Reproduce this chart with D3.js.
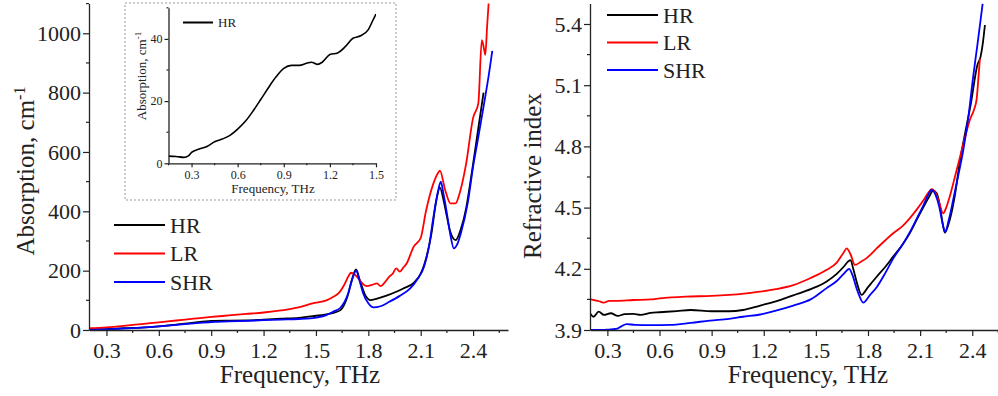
<!DOCTYPE html>
<html>
<head>
<meta charset="utf-8">
<script src="https://cdn.jsdelivr.net/npm/d3@7"></script>
<style>
  body { margin: 0; background: #fff; }
  svg text { font-family: "Liberation Serif", serif !important; fill: #222; }
</style>
</head>
<body>
<div id="chart"></div>
<script>
// absorption, cm-1  [frequency THz, value]
var absHR = [[0.2,2],[0.3,3],[0.4,6],[0.5,8],[0.6,12],[0.7,18],[0.8,25],[0.9,30.5],[1.0,31.5],[1.1,32],[1.2,35],[1.3,38],[1.4,41],[1.5,48],[1.55,52],[1.6,58],[1.64,67],[1.68,112],[1.705,168],[1.73,204],[1.75,170],[1.78,120],[1.81,101],[1.85,106],[1.9,115],[1.96,129],[2.0,140],[2.06,159],[2.1,190],[2.12,220],[2.16,320],[2.19,438],[2.21,480],[2.23,440],[2.25,382],[2.27,330],[2.3,303],[2.33,340],[2.36,410],[2.39,520],[2.42,640],[2.44,720],[2.46,800]];
var absLR = [[0.2,6],[0.3,9],[0.4,14],[0.5,20],[0.6,26],[0.7,32],[0.8,38],[0.9,44],[1.0,49],[1.1,54],[1.2,59],[1.3,66],[1.4,76],[1.48,90],[1.56,100],[1.6,112],[1.63,124],[1.66,150],[1.69,185],[1.70,193],[1.72,188],[1.74,176],[1.77,155],[1.79,148],[1.82,152],[1.85,157],[1.87,148],[1.9,165],[1.92,180],[1.94,190],[1.96,208],[1.98,197],[2.0,210],[2.02,225],[2.06,281],[2.1,310],[2.13,400],[2.17,489],[2.2,530],[2.21,537],[2.24,472],[2.27,427],[2.3,427],[2.32,455],[2.36,560],[2.4,715],[2.43,764],[2.45,977],[2.465,940],[2.47,927],[2.48,1020],[2.49,1110]];
var absSHR = [[0.2,0],[0.3,2],[0.4,5],[0.5,8],[0.6,12],[0.7,17],[0.8,22],[0.9,27],[1.0,29],[1.1,31],[1.2,33],[1.3,35],[1.4,37],[1.5,42],[1.56,50],[1.6,62],[1.64,75],[1.685,124],[1.71,175],[1.73,200],[1.75,165],[1.77,124],[1.8,90],[1.83,76],[1.87,80],[1.92,95],[1.98,115],[2.04,140],[2.08,170],[2.12,215],[2.15,290],[2.17,370],[2.2,470],[2.215,500],[2.23,460],[2.25,393],[2.27,320],[2.29,275],[2.31,290],[2.33,326],[2.37,430],[2.4,550],[2.43,650],[2.46,753],[2.49,860],[2.51,941]];

// inset, HR only, low frequency
var insetHR = [[0.15,2.3],[0.2,2.2],[0.25,1.9],[0.28,2.4],[0.3,3.5],[0.35,4.6],[0.4,5.4],[0.45,6.9],[0.5,7.8],[0.55,9.0],[0.6,11.0],[0.65,13.5],[0.7,16.8],[0.75,20.5],[0.8,24.3],[0.85,27.8],[0.9,30.5],[0.95,31.5],[1.0,31.5],[1.05,32.2],[1.08,32.5],[1.12,31.8],[1.15,32.5],[1.2,35],[1.25,35.5],[1.3,37.5],[1.35,40.2],[1.4,41],[1.45,43],[1.48,46],[1.5,48]];

// refractive index
var riHR = [[0.2,3.982],[0.22,3.965],[0.25,3.99],[0.28,3.974],[0.32,3.982],[0.36,3.969],[0.4,3.978],[0.45,3.979],[0.49,3.974],[0.55,3.984],[0.6,3.987],[0.7,3.993],[0.78,3.998],[0.9,3.992],[1.0,3.992],[1.08,3.998],[1.18,4.02],[1.27,4.04],[1.37,4.07],[1.47,4.1],[1.56,4.137],[1.62,4.175],[1.66,4.21],[1.685,4.235],[1.70,4.243],[1.715,4.2],[1.74,4.12],[1.763,4.072],[1.8,4.11],[1.85,4.161],[1.9,4.21],[1.945,4.26],[2.0,4.32],[2.04,4.374],[2.08,4.44],[2.12,4.504],[2.15,4.55],[2.175,4.583],[2.195,4.57],[2.215,4.504],[2.23,4.42],[2.243,4.377],[2.26,4.41],[2.28,4.472],[2.3,4.56],[2.33,4.734],[2.36,4.87],[2.39,5.0],[2.43,5.2],[2.448,5.24],[2.46,5.3],[2.473,5.395]];
var riLR = [[0.2,4.052],[0.23,4.045],[0.26,4.039],[0.28,4.034],[0.31,4.043],[0.35,4.043],[0.45,4.047],[0.55,4.05],[0.6,4.055],[0.75,4.064],[0.9,4.067],[1.0,4.072],[1.1,4.08],[1.18,4.088],[1.27,4.1],[1.37,4.12],[1.47,4.155],[1.56,4.194],[1.62,4.23],[1.66,4.28],[1.677,4.30],[1.7,4.27],[1.725,4.219],[1.76,4.235],[1.79,4.251],[1.85,4.3],[1.9,4.34],[1.945,4.374],[2.0,4.41],[2.04,4.447],[2.08,4.49],[2.12,4.537],[2.145,4.57],[2.166,4.59],[2.19,4.57],[2.205,4.537],[2.233,4.472],[2.25,4.5],[2.27,4.553],[2.3,4.65],[2.33,4.75],[2.36,4.85],[2.386,4.93],[2.41,4.98],[2.425,5.03],[2.435,5.13],[2.444,5.23]];
var riSHR = [[0.2,3.9],[0.3,3.902],[0.35,3.905],[0.38,3.918],[0.41,3.929],[0.46,3.925],[0.55,3.924],[0.66,3.925],[0.78,3.935],[0.89,3.946],[1.0,3.955],[1.08,3.965],[1.18,3.976],[1.27,3.995],[1.37,4.02],[1.47,4.05],[1.56,4.104],[1.62,4.14],[1.66,4.175],[1.692,4.2],[1.71,4.17],[1.74,4.09],[1.773,4.034],[1.81,4.07],[1.85,4.11],[1.9,4.18],[1.945,4.25],[2.0,4.32],[2.041,4.38],[2.08,4.445],[2.118,4.51],[2.145,4.56],[2.166,4.587],[2.19,4.56],[2.21,4.504],[2.23,4.42],[2.243,4.38],[2.265,4.44],[2.29,4.537],[2.32,4.66],[2.348,4.78],[2.38,4.96],[2.405,5.14],[2.43,5.3],[2.46,5.5]];

var seriesNames = ["HR", "LR", "SHR"];
var seriesColors = ["#000000", "#ff0000", "#0000ff"];
var freqTicks = [0.3, 0.6, 0.9, 1.2, 1.5, 1.8, 2.1, 2.4];
var absTicks = [0, 200, 400, 600, 800, 1000];
var riTicks = [3.9, 4.2, 4.5, 4.8, 5.1, 5.4];
var insetFreqTicks = [0.3, 0.6, 0.9, 1.2, 1.5];
var insetAbsTicks = [0, 20, 40];

var width = 998, height = 396;
var serif = "Liberation Serif";

var svg = d3.select("#chart").append("svg")
    .attr("width", width)
    .attr("height", height)
    .attr("font-family", serif);

function minorTicks(majors, step, domain) {
    var out = [];
    for (var i = 0; i < majors.length; i++) {
        [majors[i] - step, majors[i] + step].forEach(function(v) {
            v = Math.round(v * 1000) / 1000;
            if (v >= domain[0] && v <= domain[1] && out.indexOf(v) < 0 && majors.indexOf(v) < 0) out.push(v);
        });
    }
    return out;
}

function drawPanel(g, x, y, opts) {
    var clipId = "clip" + opts.id;
    g.append("clipPath").attr("id", clipId)
        .append("rect")
        .attr("x", x.range()[0]).attr("y", y.range()[1])
        .attr("width", x.range()[1] - x.range()[0])
        .attr("height", y.range()[0] - y.range()[1]);

    var line = d3.line()
        .x(function(d) { return x(d[0]) })
        .y(function(d) { return y(d[1]) })
        .curve(d3.curveMonotoneX);

    g.append("g").attr("clip-path", "url(#" + clipId + ")")
        .selectAll("path")
        .data(opts.series)
        .enter().append("path")
        .attr("d", function(d) { return line(d.values) })
        .attr("fill", "none")
        .attr("stroke", function(d) { return d.color })
        .attr("stroke-width", opts.lw)
        .attr("stroke-linejoin", "round");

    // axes
    var xAxis = g.append("g")
        .attr("transform", "translate(0," + y.range()[0] + ")")
        .call(d3.axisBottom(x).tickValues(opts.xTicks).tickFormat(d3.format(".1f"))
            .tickSize(opts.tick).tickSizeOuter(0).tickPadding(opts.pad))
        .attr("font-family", serif)
        .attr("font-size", opts.fs);
    xAxis.selectAll(".tick line").attr("stroke", "#222").attr("stroke-width", 1.2);
    xAxis.select(".domain").attr("stroke", "#222").attr("stroke-width", 1.3);
    xAxis.selectAll("text").attr("fill", "#222").attr("font-family", serif);
    xAxis.selectAll(".minor")
        .data(minorTicks(opts.xTicks, opts.xMinor, x.domain()))
        .enter().append("line")
        .attr("x1", function(d) { return x(d) }).attr("x2", function(d) { return x(d) })
        .attr("y1", 0).attr("y2", opts.tick / 2)
        .attr("stroke", "#222").attr("stroke-width", 1.2);

    var yAxis = g.append("g")
        .attr("transform", "translate(" + x.range()[0] + ",0)")
        .call(d3.axisLeft(y).tickValues(opts.yTicks).tickFormat(opts.yFormat)
            .tickSize(opts.tick).tickSizeOuter(0).tickPadding(opts.ypad))
        .attr("font-family", serif)
        .attr("font-size", opts.fs);
    yAxis.selectAll(".tick line").attr("stroke", "#222").attr("stroke-width", 1.2);
    yAxis.select(".domain").attr("stroke", "#222").attr("stroke-width", 1.3);
    yAxis.selectAll("text").attr("fill", "#222").attr("font-family", serif);
    yAxis.selectAll(".minor")
        .data(minorTicks(opts.yTicks, opts.yMinor, y.domain()))
        .enter().append("line")
        .attr("y1", function(d) { return y(d) }).attr("y2", function(d) { return y(d) })
        .attr("x1", 0).attr("x2", -opts.tick / 2)
        .attr("stroke", "#222").attr("stroke-width", 1.2);
}

function legend(g, x0, y0, dy, len, fs, items) {
    var row = g.selectAll(".leg" + x0)
        .data(items)
        .enter().append("g")
        .attr("transform", function(d, i) { return "translate(" + x0 + "," + (y0 + i * dy) + ")" });
    row.append("line").attr("x1", 0).attr("x2", len)
        .attr("stroke", function(d) { return d.color }).attr("stroke-width", 2);
    row.append("text").attr("x", len + 5).attr("dy", "0.35em")
        .attr("font-size", fs)
        .text(function(d) { return d.name });
}

function makeSeries(arrs) {
    return arrs.map(function(a, i) { return { name: seriesNames[i], color: seriesColors[i], values: a } });
}

// ---- left panel: absorption
var xL = d3.scaleLinear().domain([0.2, 2.6]).range([89, 508]);
var yL = d3.scaleLinear().domain([0, 1100]).range([330, 3.6]);
var gL = svg.append("g");
drawPanel(gL, xL, yL, {
    id: "L", series: makeSeries([absHR, absLR, absSHR]), lw: 1.8,
    xTicks: freqTicks, xMinor: 0.15, yTicks: absTicks, yMinor: 100,
    yFormat: d3.format("d"), tick: 6, pad: 6, ypad: 2, fs: 22
});
legend(gL, 114, 225, 28.5, 51, 22, makeSeries([absHR, absLR, absSHR]));
gL.append("text").attr("x", 300).attr("y", 383).attr("text-anchor", "middle")
    .attr("font-size", 25).text("Frequency, THz");
var tL = gL.append("text")
    .attr("transform", "translate(34,171) rotate(-90)")
    .attr("text-anchor", "middle").attr("font-size", 25);
tL.append("tspan").text("Absorption, cm");
tL.append("tspan").attr("dy", "-0.55em").attr("font-size", 16).text("-1");

// ---- inset
var inset = svg.append("g");
inset.append("rect").attr("x", 125).attr("y", 3).attr("width", 271).attr("height", 197)
    .attr("fill", "#fff").attr("stroke", "#999").attr("stroke-width", 1)
    .attr("stroke-dasharray", "2,2");
var xI = d3.scaleLinear().domain([0.15, 1.5]).range([168.5, 376]);
var yI = d3.scaleLinear().domain([0, 50]).range([163.3, 7.8]);
drawPanel(inset, xI, yI, {
    id: "I", series: [{ name: "HR", color: "#000", values: insetHR }], lw: 1.6,
    xTicks: insetFreqTicks, xMinor: 0.15, yTicks: insetAbsTicks, yMinor: 10,
    yFormat: d3.format("d"), tick: 4, pad: 3, ypad: 2, fs: 12
});
legend(inset, 183, 22.5, 0, 30, 13, [{ name: "HR", color: "#000" }]);
inset.append("text").attr("x", 273).attr("y", 193).attr("text-anchor", "middle")
    .attr("font-size", 13).text("Frequency, THz");
var tI = inset.append("text")
    .attr("transform", "translate(146,76) rotate(-90)")
    .attr("text-anchor", "middle").attr("font-size", 13);
tI.append("tspan").text("Absorption, cm");
tI.append("tspan").attr("dy", "-0.55em").attr("font-size", 9).text("-1");

// ---- right panel: refractive index
var xR = d3.scaleLinear().domain([0.2, 2.6]).range([590, 1007]);
var yR = d3.scaleLinear().domain([3.9, 5.5]).range([330, 3.6]);
var gR = svg.append("g");
drawPanel(gR, xR, yR, {
    id: "R", series: makeSeries([riHR, riLR, riSHR]), lw: 1.8,
    xTicks: freqTicks, xMinor: 0.15, yTicks: riTicks, yMinor: 0.15,
    yFormat: d3.format(".1f"), tick: 6, pad: 6, ypad: 2, fs: 22
});
legend(gR, 607, 15, 27.5, 51, 22, makeSeries([riHR, riLR, riSHR]));
gR.append("text").attr("x", 808).attr("y", 383).attr("text-anchor", "middle")
    .attr("font-size", 25).text("Frequency, THz");
gR.append("text")
    .attr("transform", "translate(541,176) rotate(-90)")
    .attr("text-anchor", "middle").attr("font-size", 25)
    .text("Refractive index");
</script>
</body>
</html>
